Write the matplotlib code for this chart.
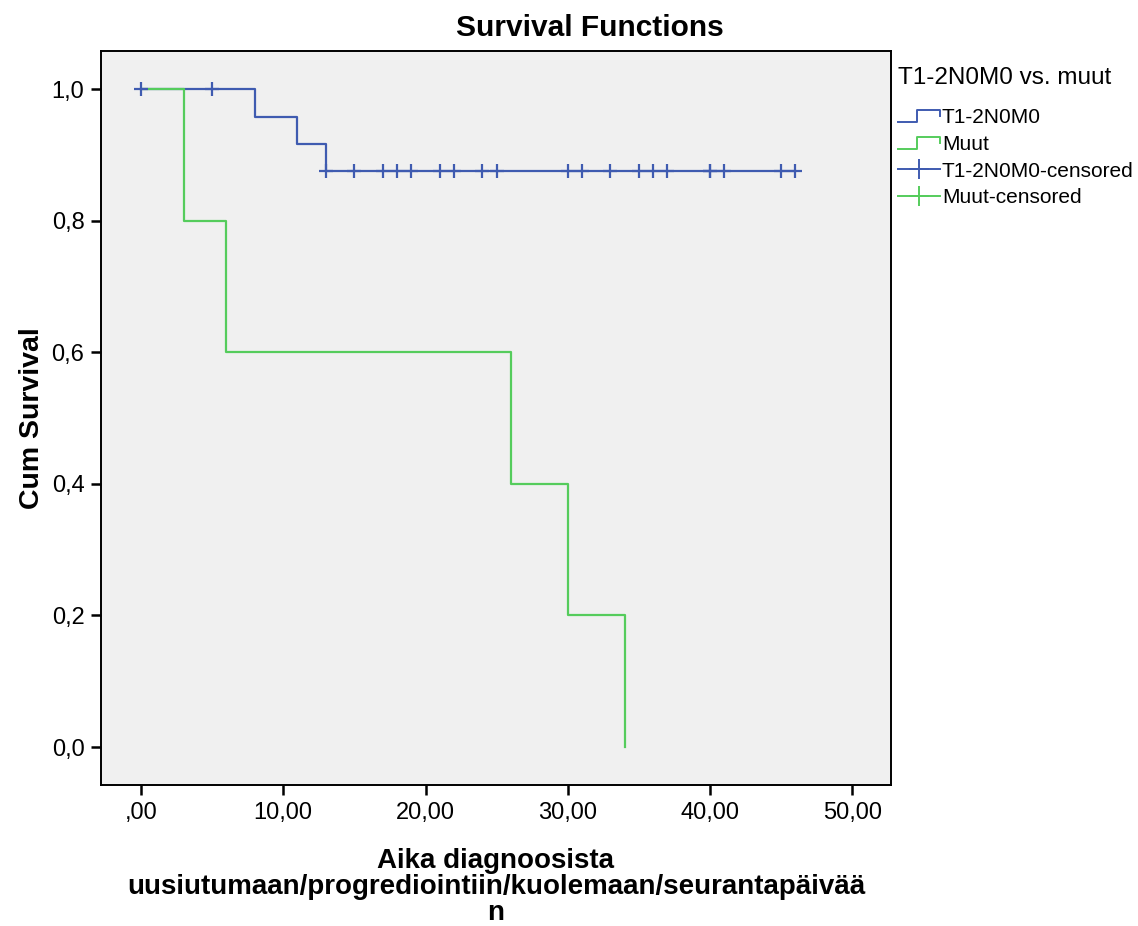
import matplotlib.pyplot as plt
from matplotlib.legend_handler import HandlerBase
from matplotlib.lines import Line2D

# Kaplan-Meier steps
t1_times = [0, 8, 11, 13, 46]
t1_surv = [1.0, 23 / 24, 22 / 24, 21 / 24, 21 / 24]
t1_censored = [0, 5, 13, 15, 17, 18, 19, 21, 22, 24, 25, 30, 31, 33, 35, 36, 37, 40, 40, 41, 45, 46]

muut_times = [0, 3, 6, 26, 30, 34]
muut_surv = [1.0, 0.8, 0.6, 0.4, 0.2, 0.0]

x_ticks = [0, 10, 20, 30, 40, 50]
x_labels = [',00', '10,00', '20,00', '30,00', '40,00', '50,00']
y_ticks = [0.0, 0.2, 0.4, 0.6, 0.8, 1.0]
y_labels = ['0,0', '0,2', '0,4', '0,6', '0,8', '1,0']

blue = '#3f5bb0'
green = '#55cc5c'


def surv_at(times, surv, t):
    s = surv[0]
    for ti, si in zip(times, surv):
        if ti <= t:
            s = si
    return s


class StepHandler(HandlerBase):
    def create_artists(self, legend, orig, xd, yd, w, h, fontsize, trans):
        xs = [xd, xd + w * 0.45, xd + w * 0.45, xd + w, xd + w]
        ys = [yd + h * 0.05, yd + h * 0.05, yd + h * 0.9, yd + h * 0.9, yd + h * 0.5]
        ln = Line2D(xs, ys, color=orig.get_color(), lw=1.4, transform=trans)
        return [ln]


plt.rcParams['font.family'] = ['Arial', 'Liberation Sans', 'DejaVu Sans']

fig = plt.figure(figsize=(11.38, 9.26), dpi=100)
ax = fig.add_axes([0.0888, 0.152, 0.694, 0.793])
ax.set_facecolor('#f0f0f0')

ax.step(t1_times, t1_surv, where='post', color=blue, lw=1.6)
ax.step(muut_times, muut_surv, where='post', color=green, lw=1.6)
cy = [surv_at(t1_times, t1_surv, t) for t in t1_censored]
ax.plot(t1_censored, cy, linestyle='none', marker='+', markersize=10, mew=1.6, color=blue)

ax.set_xlim(-2.8, 52.7)
ax.set_ylim(-0.058, 1.058)
ax.set_xticks(x_ticks)
ax.set_xticklabels(x_labels)
ax.set_yticks(y_ticks)
ax.set_yticklabels(y_labels)
ax.tick_params(direction='out', length=7, width=1.8, labelsize=17, pad=5)
for s in ax.spines.values():
    s.set_linewidth(1.4)

fig.text(0.518, 0.970, 'Survival Functions', fontsize=21.5, fontweight='bold', ha='center', va='center')
ax.set_ylabel('Cum Survival', fontsize=20.5, fontweight='bold', labelpad=5)
ax.set_xlabel('Aika diagnoosista\nuusiutumaan/progrediointiin/kuolemaan/seurantapäivää\nn',
              fontsize=20, fontweight='bold', labelpad=17, linespacing=1.0)

h1 = Line2D([], [], color=blue)
h2 = Line2D([], [], color=green)
h3 = Line2D([], [], color=blue, marker='+', markersize=14, mew=1.4, lw=1.4)
h4 = Line2D([], [], color=green, marker='+', markersize=14, mew=1.4, lw=1.4)
leg = fig.legend([h1, h2, h3, h4], ['T1-2N0M0', 'Muut', 'T1-2N0M0-censored', 'Muut-censored'],
                 title='T1-2N0M0 vs. muut', loc='upper left', bbox_to_anchor=(0.782, 0.937),
                 frameon=False, fontsize=15, title_fontsize=17.5, handlelength=2.0,
                 handletextpad=0.1, labelspacing=0.37, borderaxespad=0, borderpad=0.4,
                 handler_map={h1: StepHandler(), h2: StepHandler()})
leg._legend_box.align = 'left'
leg._legend_box.sep = 14

fig.savefig('out.png', dpi=100, facecolor='white')
